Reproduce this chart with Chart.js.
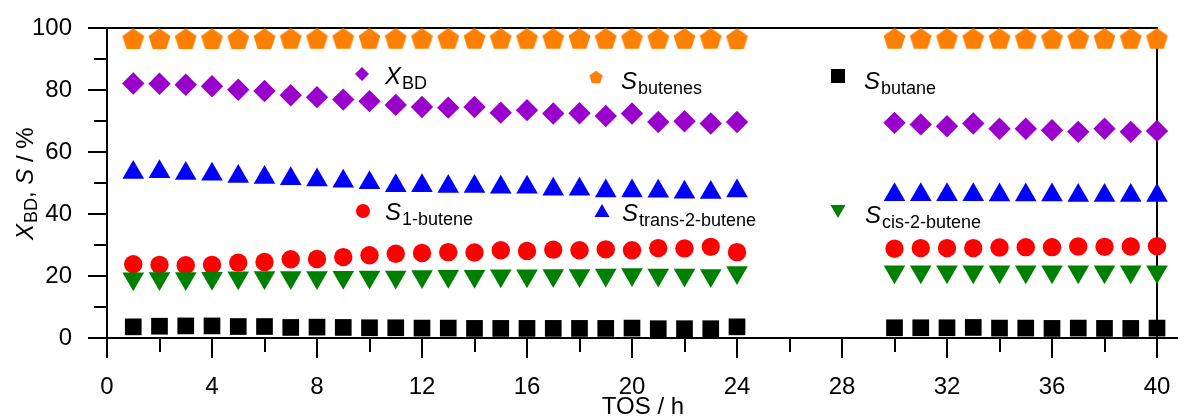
<!DOCTYPE html>
<html>
<head>
<meta charset="utf-8">
<script src="https://cdn.jsdelivr.net/npm/chart.js@4/dist/chart.umd.min.js"></script>
<style>
  html, body { margin: 0; padding: 0; background: #fff; }
  #wrap { width: 1178px; height: 419px; }
</style>
</head>
<body>
<div id="wrap"><canvas id="toschart" width="1178" height="419"></canvas></div>
<script>
// time on stream, h
var tos = [1,2,3,4,5,6,7,8,9,10,11,12,13,14,15,16,17,18,19,20,21,22,23,24,
           30,31,32,33,34,35,36,37,38,39,40];

// conversion of butadiene, %
var xBD = [82.1,82.0,81.7,81.2,80.1,79.7,78.3,77.7,76.9,76.4,75.2,74.5,74.3,74.5,72.7,73.5,72.4,72.5,71.6,72.4,69.7,69.9,69.2,69.7,
           69.4,68.9,68.3,69.2,67.5,67.5,67.0,66.5,67.5,66.5,66.8];
// selectivities, %
var sButenes = [96.6,96.6,96.6,96.6,96.6,96.6,96.7,96.7,96.7,96.7,96.7,96.7,96.7,96.7,96.7,96.7,96.7,96.7,96.7,96.7,96.7,96.7,96.7,96.6,
                96.7,96.7,96.7,96.7,96.7,96.7,96.7,96.7,96.7,96.7,96.7];
var sButane = [3.6,3.8,3.9,3.9,3.7,3.7,3.4,3.5,3.4,3.3,3.3,3.2,3.2,3.1,3.1,3.1,3.1,3.1,3.1,3.2,3.0,3.0,3.0,3.6,
               3.3,3.3,3.3,3.4,3.2,3.2,3.1,3.2,3.1,3.1,3.2];
var s1Butene = [23.8,23.6,23.5,23.6,24.3,24.5,25.4,25.5,26.1,26.7,27.2,27.4,27.7,27.6,28.3,28.1,28.5,28.3,28.6,28.3,29.0,28.9,29.4,27.7,
                28.8,29.0,29.0,29.0,29.2,29.3,29.3,29.5,29.4,29.5,29.6];
var sTrans2Butene = [53.4,53.6,53.1,52.8,52.1,51.8,51.4,51.0,50.6,50.1,49.1,49.1,48.9,48.9,48.6,48.6,48.0,48.0,47.4,47.4,47.3,47.0,46.9,47.4,
                     46.2,46.2,46.2,46.2,46.1,46.1,46.1,46.0,46.0,46.0,46.0];
var sCis2Butene = [19.1,19.2,19.2,19.3,19.4,19.5,19.5,19.5,19.6,19.7,19.7,19.8,19.9,19.9,20.1,20.1,20.2,20.2,20.3,20.5,20.3,20.3,20.2,21.1,
                   21.4,21.4,21.4,21.4,21.4,21.4,21.4,21.4,21.4,21.4,21.4];

var xTicks = [0,4,8,12,16,20,24,28,32,36,40];
var yTicks = [0,20,40,60,80,100];

var FONT = '"Liberation Sans", Arial, sans-serif';
var ORANGE = '#ff8000', PURPLE = '#9a00cc', BLUE = '#0000ff', RED = '#ff0000', GREEN = '#008000';

function pentagon(size, color) {
  var c = document.createElement('canvas');
  c.width = size; c.height = size;
  var g = c.getContext('2d');
  var r = size / 2, cx = size / 2, cy = size / 2 + r * 0.1;
  g.fillStyle = color;
  g.beginPath();
  for (var i = 0; i < 5; i++) {
    var a = -Math.PI / 2 + i * 2 * Math.PI / 5;
    var px = cx + r * Math.cos(a), py = cy + r * Math.sin(a);
    if (i === 0) g.moveTo(px, py); else g.lineTo(px, py);
  }
  g.closePath();
  g.fill();
  return c;
}
var pentaBig = pentagon(23, ORANGE);
var pentaSmall = pentagon(14, ORANGE);

function pts(arr) {
  return arr.map(function (v, i) { return { x: tos[i], y: v }; });
}

function series(label, arr, color, style, radius, rotation) {
  return {
    label: label,
    data: pts(arr),
    showLine: false,
    pointStyle: style,
    pointRotation: rotation || 0,
    pointRadius: radius,
    pointBackgroundColor: color,
    pointBorderColor: color,
    pointBorderWidth: 0,
    clip: false
  };
}

// legend entries laid out as in the figure (3 x 2 inside the plot)
var legendItems = [
  { main: 'X', sub: 'BD', style: 'rectRot', color: PURPLE, mx: 362, my: 74, tx: 385, ty: 84 },
  { main: 'S', sub: 'butenes', style: 'penta', color: ORANGE, mx: 596, my: 77, tx: 621, ty: 89 },
  { main: 'S', sub: 'butane', style: 'rect', color: '#000', mx: 838, my: 76, tx: 864, ty: 89 },
  { main: 'S', sub: '1-butene', style: 'circle', color: RED, mx: 363, my: 211, tx: 385, ty: 220 },
  { main: 'S', sub: 'trans-2-butene', style: 'triangle', color: BLUE, mx: 602, my: 212, tx: 622, ty: 221 },
  { main: 'S', sub: 'cis-2-butene', style: 'triangleDown', color: GREEN, mx: 838, my: 210, tx: 865, ty: 223 }
];

function legendMarker(ctx, it) {
  var x = it.mx, y = it.my;
  ctx.fillStyle = it.color;
  ctx.beginPath();
  if (it.style === 'rectRot') {
    ctx.moveTo(x - 7, y); ctx.lineTo(x, y - 7); ctx.lineTo(x + 7, y); ctx.lineTo(x, y + 7);
  } else if (it.style === 'rect') {
    ctx.rect(x - 7, y - 7, 14, 14);
  } else if (it.style === 'circle') {
    ctx.arc(x, y, 7, 0, Math.PI * 2);
  } else if (it.style === 'triangle') {
    ctx.moveTo(x, y - 8); ctx.lineTo(x + 7.5, y + 5); ctx.lineTo(x - 7.5, y + 5);
  } else if (it.style === 'triangleDown') {
    ctx.moveTo(x, y + 8); ctx.lineTo(x + 7.5, y - 5); ctx.lineTo(x - 7.5, y - 5);
  } else if (it.style === 'penta') {
    ctx.drawImage(pentaSmall, x - 7, y - 7);
  }
  ctx.closePath();
  ctx.fill();
}

function subText(ctx, x, y, main, sub, dy) {
  ctx.font = 'italic 24px ' + FONT;
  ctx.fillText(main, x, y);
  var w = ctx.measureText(main).width;
  ctx.font = '18px ' + FONT;
  ctx.fillText(sub, x + w + 1, y + dy);
  return x + w + 1 + ctx.measureText(sub).width;
}

var framePlugin = {
  id: 'frame',
  beforeDatasetsDraw: function (chart) {
    var ctx = chart.ctx, a = chart.chartArea;
    var xs = chart.scales.x, ys = chart.scales.y;
    ctx.save();
    ctx.strokeStyle = '#000';
    ctx.lineWidth = 2;
    ctx.beginPath();
    // frame: top, right, bottom extended
    ctx.moveTo(a.left, a.top); ctx.lineTo(a.right, a.top); ctx.lineTo(a.right, a.bottom);
    ctx.moveTo(a.left, a.bottom); ctx.lineTo(chart.width, a.bottom);
    ctx.moveTo(a.left, a.top); ctx.lineTo(a.left, a.bottom);
    // x ticks, major every 4, minor every 2
    for (var v = 0; v <= 40; v += 2) {
      var px = Math.round(xs.getPixelForValue(v));
      ctx.moveTo(px, a.bottom);
      ctx.lineTo(px, a.bottom + (v % 4 === 0 ? 20 : 14));
    }
    // y ticks, major every 20, minor every 10
    for (var w = 0; w <= 100; w += 10) {
      var py = Math.round(ys.getPixelForValue(w));
      ctx.moveTo(a.left - (w % 20 === 0 ? 19 : 13), py);
      ctx.lineTo(a.left, py);
    }
    ctx.stroke();
    ctx.restore();
  },
  afterDraw: function (chart) {
    var ctx = chart.ctx;
    ctx.save();
    ctx.fillStyle = '#000';
    ctx.textBaseline = 'alphabetic';
    ctx.textAlign = 'left';
    legendItems.forEach(function (it) {
      legendMarker(ctx, it);
      ctx.fillStyle = '#000';
      subText(ctx, it.tx, it.ty, it.main, it.sub, 5);
    });
    // x axis title
    ctx.font = '24px ' + FONT;
    ctx.textAlign = 'center';
    ctx.fillText('TOS / h', 643, 414);
    // y axis title, rotated
    ctx.translate(33, 240);
    ctx.rotate(-Math.PI / 2);
    ctx.textAlign = 'left';
    var x = subText(ctx, 0, 0, 'X', 'BD', 4);
    ctx.font = '24px ' + FONT;
    ctx.fillText(', ', x, 0);
    x += ctx.measureText(', ').width;
    ctx.font = 'italic 24px ' + FONT;
    ctx.fillText('S', x, 0);
    x += ctx.measureText('S').width;
    ctx.font = '24px ' + FONT;
    ctx.fillText(' / %', x, 0);
    ctx.restore();
  }
};

var chart = new Chart(document.getElementById('toschart'), {
  type: 'scatter',
  data: {
    datasets: [
      series('S butane', sButane, '#000', 'rect', 11.8),
      series('S cis-2-butene', sCis2Butene, GREEN, 'triangle', 12.5, 180),
      series('S 1-butene', s1Butene, RED, 'circle', 9.2),
      series('S trans-2-butene', sTrans2Butene, BLUE, 'triangle', 12.5),
      series('X BD', xBD, PURPLE, 'rectRot', 11.2),
      series('S butenes', sButenes, ORANGE, pentaBig, 11.5)
    ]
  },
  options: {
    responsive: false,
    animation: false,
    devicePixelRatio: 1,
    layout: { padding: { left: 0, top: 28, right: 21, bottom: 0 } },
    plugins: {
      legend: { display: false },
      tooltip: { enabled: false }
    },
    scales: {
      x: {
        type: 'linear',
        min: 0,
        max: 40,
        afterFit: function (s) { s.height = 81; s.paddingLeft = 0; s.paddingRight = 0; },
        afterBuildTicks: function (s) { s.ticks = xTicks.map(function (v) { return { value: v }; }); },
        grid: { display: false, drawTicks: false },
        border: { display: false },
        ticks: { color: '#000', font: { family: FONT, size: 24 }, padding: 35, maxRotation: 0 }
      },
      y: {
        min: 0,
        max: 100,
        afterFit: function (s) { s.width = 107; s.paddingTop = 0; s.paddingBottom = 0; },
        afterBuildTicks: function (s) { s.ticks = yTicks.map(function (v) { return { value: v }; }); },
        grid: { display: false, drawTicks: false },
        border: { display: false },
        ticks: { color: '#000', font: { family: FONT, size: 24 }, padding: 35 }
      }
    }
  },
  plugins: [framePlugin]
});
</script>
</body>
</html>
